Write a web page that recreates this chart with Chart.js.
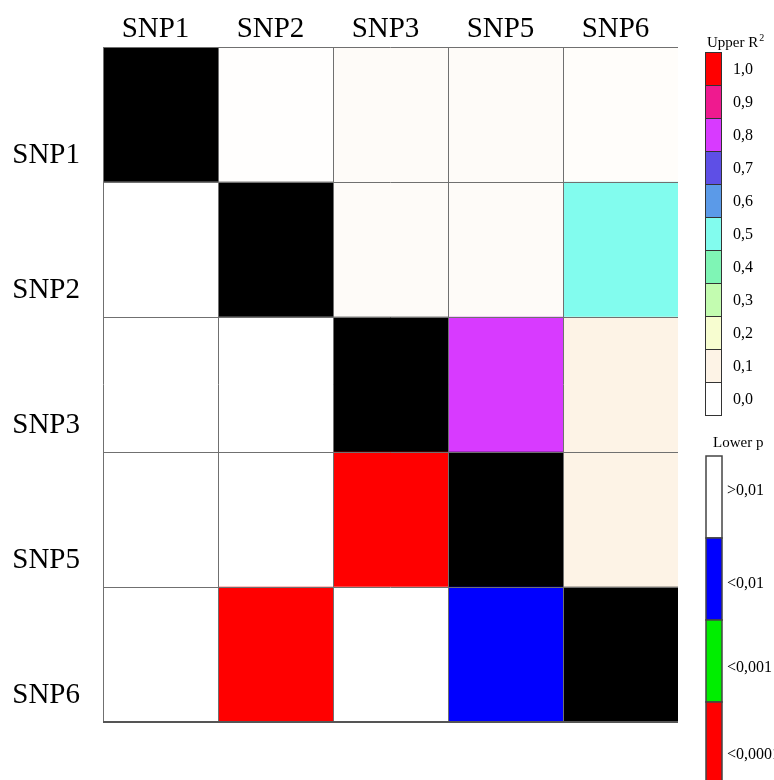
<!DOCTYPE html>
<html>
<head>
<meta charset="utf-8">
<script src="https://cdn.jsdelivr.net/npm/chart.js@4.4.1/dist/chart.umd.min.js"></script>
<style>
body { margin: 0; background: #fff; }
#wrap { width: 774px; height: 780px; position: relative; }
</style>
</head>
<body>
<div id="wrap"><canvas id="ldChart"></canvas></div>
<script>
// ------------------------------
// Data
// ------------------------------

const snps = ["SNP1", "SNP2", "SNP3", "SNP5", "SNP6"];

// upper triangle: R2 (row, col), col > row
const upperR2 = [
    [null, 0.01, 0.03, 0.03, 0.02],
    [null, null, 0.03, 0.03, 0.50],
    [null, null, null, 0.80, 0.10],
    [null, null, null, null, 0.10],
    [null, null, null, null, null]
];

// lower triangle: p values (row, col), col < row
const lowerP = [
    [],
    [0.42],
    [0.31, 0.55],
    [0.27, 0.63, 0.00002],
    [0.38, 0.00003, 0.21, 0.004]
];

const r2Ticks = ["1,0", "0,9", "0,8", "0,7", "0,6", "0,5", "0,4", "0,3", "0,2", "0,1", "0,0"];
const pLabels = [">0,01", "<0,01", "<0,001", "<0,0001"];

// ------------------------------
// Colours
// ------------------------------

// from 0,0 up to 1,0
const r2Colors = ["#ffffff", "#fdf3e6", "#f7fdd0", "#c3fcb0", "#7ff5b5", "#82fcee",
    "#5b9ae8", "#5e4fe6", "#d83aff", "#ef1a8f", "#ff0000"];
const pColors = ["#ffffff", "#0000ff", "#00ee00", "#ff0000"];

function hexRgb(h) {
    return [parseInt(h.slice(1, 3), 16), parseInt(h.slice(3, 5), 16), parseInt(h.slice(5, 7), 16)];
}

function r2Color(v) {
    const pos = Math.max(0, Math.min(1, v)) * 10;
    const i = Math.min(9, Math.floor(pos + 1e-9));
    const t = pos - i;
    const a = hexRgb(r2Colors[i]), b = hexRgb(r2Colors[i + 1]);
    const c = a.map((x, k) => Math.round(x + (b[k] - x) * Math.max(0, t)));
    return "rgb(" + c.join(",") + ")";
}

function pColor(p) {
    if (p < 0.0001) return pColors[3];
    if (p < 0.001) return pColors[2];
    if (p < 0.01) return pColors[1];
    return pColors[0];
}

function cellColor(r, c) {
    if (r === c) return "#000000";
    if (c > r) return r2Color(upperR2[r][c]);
    return pColor(lowerP[r][c]);
}

const datasets = snps.map((name, c) => ({
    label: name,
    data: snps.map(() => 1),
    backgroundColor: snps.map((_, r) => cellColor(r, c)),
    borderWidth: 0,
    barPercentage: 1,
    categoryPercentage: 1
}));

// ------------------------------
// Grid lines + legend
// ------------------------------

const SERIF = "'Liberation Serif', 'DejaVu Serif', serif";

const gridLines = {
    id: "gridLines",
    afterDatasetsDraw(chart) {
        const ctx = chart.ctx;
        const xs = chart.scales.x, ys = chart.scales.y;
        const step = ys.getPixelForValue(1) - ys.getPixelForValue(0);
        const top = ys.getPixelForValue(0) - step / 2;
        const bottom = ys.getPixelForValue(snps.length - 1) + step / 2;
        const left = xs.getPixelForValue(0);
        const right = xs.getPixelForValue(snps.length);
        ctx.save();
        ctx.strokeStyle = "#707070";
        ctx.lineWidth = 1;
        ctx.beginPath();
        for (let i = 0; i < snps.length; i++) {
            const px = Math.round(xs.getPixelForValue(i)) + 0.5;
            ctx.moveTo(px, top);
            ctx.lineTo(px, bottom);
        }
        for (let i = 0; i < snps.length; i++) {
            const py = Math.round(top + step * i) + 0.5;
            ctx.moveTo(left, py);
            ctx.lineTo(right, py);
        }
        ctx.stroke();
        ctx.strokeStyle = "#555";
        ctx.lineWidth = 2;
        ctx.beginPath();
        ctx.moveTo(left, Math.round(bottom));
        ctx.lineTo(right, Math.round(bottom));
        ctx.stroke();
        ctx.restore();
    }
};

const sideLegend = {
    id: "sideLegend",
    afterDraw(chart) {
        const ctx = chart.ctx;
        ctx.save();
        ctx.fillStyle = "#000";
        ctx.textBaseline = "alphabetic";
        ctx.font = "15px " + SERIF;
        ctx.fillText("Upper R", 707, 47);
        const w = ctx.measureText("Upper R").width;
        ctx.font = "10px " + SERIF;
        ctx.fillText("2", 707 + w + 1, 41);

        // R2 boxes
        const bx = 705, bw = 16, by = 52, bh = 33;
        ctx.font = "16px " + SERIF;
        ctx.textBaseline = "middle";
        r2Ticks.forEach((t, i) => {
            const y0 = by + i * bh;
            ctx.fillStyle = r2Colors[r2Colors.length - 1 - i];
            ctx.fillRect(bx, y0, bw, bh);
            ctx.strokeStyle = "#333";
            ctx.lineWidth = 1;
            ctx.strokeRect(bx + 0.5, y0 + 0.5, bw, bh);
            ctx.fillStyle = "#000";
            ctx.fillText(t, 733, y0 + bh / 2 + 1);
        });

        // p bar
        ctx.font = "15px " + SERIF;
        ctx.fillText("Lower p", 713, 443);
        ctx.font = "16px " + SERIF;
        const px = 706, pw = 16, py = 456, ph = 82;
        const offs = [-6, 5, 7, 12];
        pLabels.forEach((t, i) => {
            const y0 = py + i * ph;
            ctx.fillStyle = pColors[i];
            ctx.fillRect(px, y0, pw, ph);
            ctx.strokeStyle = "#444";
            ctx.lineWidth = 1.5;
            ctx.strokeRect(px, y0, pw, ph);
            ctx.fillStyle = "#000";
            ctx.fillText(t, 727, y0 + ph / 2 + offs[i]);
        });
        ctx.restore();
    }
};

// ------------------------------
// Chart
// ------------------------------

new Chart(document.getElementById("ldChart"), {
    type: "bar",
    data: { labels: snps, datasets: datasets },
    options: {
        indexAxis: "y",
        responsive: true,
        maintainAspectRatio: false,
        animation: false,
        layout: { padding: { top: 0, left: 0, right: 96, bottom: 58 } },
        plugins: { legend: { display: false }, tooltip: { enabled: false } },
        scales: {
            x: {
                type: "linear",
                position: "top",
                stacked: true,
                min: 0,
                max: snps.length,
                grid: { display: false, drawTicks: false },
                border: { display: false },
                afterBuildTicks(scale) {
                    scale.ticks = snps.map((_, i) => ({ value: i + 0.5 }));
                },
                afterFit(scale) { scale.height = 47; },
                ticks: {
                    padding: 0,
                    labelOffset: -5,
                    color: "#000",
                    font: { family: SERIF, size: 29 },
                    callback: (v, i) => snps[i]
                }
            },
            y: {
                type: "category",
                stacked: true,
                grid: { display: false, drawTicks: false },
                border: { display: false },
                afterFit(scale) { scale.width = 103; },
                ticks: {
                    padding: 23,
                    labelOffset: 41,
                    color: "#000",
                    font: { family: SERIF, size: 29 }
                }
            }
        }
    },
    plugins: [gridLines, sideLegend]
});
</script>
</body>
</html>
